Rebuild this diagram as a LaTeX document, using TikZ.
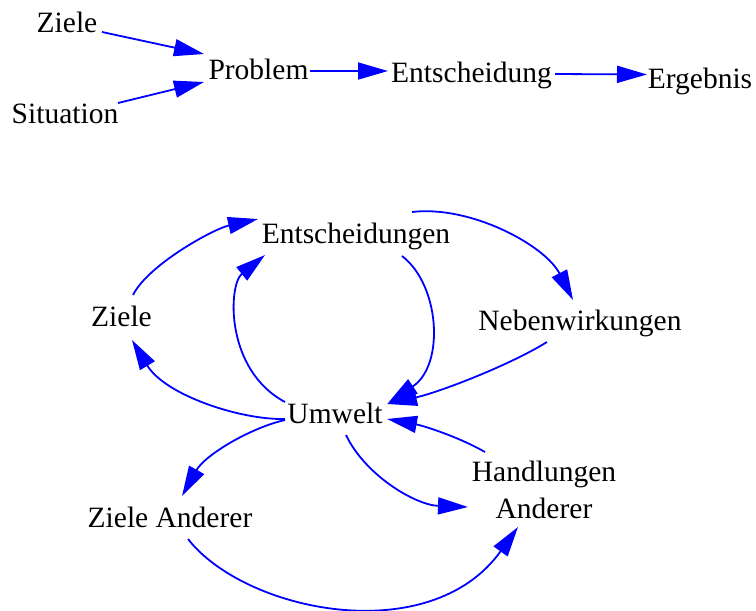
\documentclass[tikz,border=0pt]{standalone}
\usepackage{fontspec}
\setmainfont{Liberation Serif}
\usetikzlibrary{arrows.meta}
\definecolor{linkblue}{RGB}{0,0,255}
\begin{document}
\begin{tikzpicture}[x=1pt,y=-1pt,
  lbl/.style={font=\fontsize{29.5}{37}\selectfont, inner sep=0pt, anchor=base},
  link/.style={draw=linkblue, line width=1.8pt,
    -{Triangle[length=30pt,width=17pt,fill=linkblue]}}]
\useasboundingbox (0,0) rectangle (756,611);

% --- linear chain ---
\node[lbl] (zt)   at (67,32)    {Ziele};
\node[lbl] (sit)  at (65,123)   {Situation};
\node[lbl] (prob) at (258.5,79) {Problem};
\node[lbl] (ents) at (471.5,82) {Entscheidung};
\node[lbl] (erg)  at (700,88)   {Ergebnis};

\draw[link] ([shift={(35,0)}]zt.base) -- ([shift={(-54.5,-25)}]prob.base);
\draw[link] ([shift={(53,-20)}]sit.base) -- ([shift={(-54.5,3)}]prob.base);
\draw[link] ([shift={(51.5,-8)}]prob.base) -- ([shift={(-83.5,-11)}]ents.base);
\draw[link] ([shift={(83.5,-8)}]ents.base) -- ([shift={(-53,-13.5)}]erg.base);

% --- feedback loops ---
\node[lbl] (ed)  at (356,243)   {Entscheidungen};
\node[lbl] (zb)  at (121.5,326) {Ziele};
\node[lbl] (neb) at (580,330)   {Nebenwirkungen};
\node[lbl] (umw) at (335,423)   {Umwelt};
\node[lbl] (za)  at (170,527)   {Ziele Anderer};
% base anchor sits on the last line
\node[lbl, align=center] (ha) at (544,518) {Handlungen\\Anderer};

% Ziele -> Entscheidungen
\draw[link] ([shift={(11.5,-31)}]zb.base) .. controls (148,265) and (213,229) .. ([shift={(-98,-24)}]ed.base);
% Entscheidungen -> Nebenwirkungen
\draw[link] ([shift={(56,-31)}]ed.base) .. controls (470,205) and (545,245) .. ([shift={(-7,-30)}]neb.base);
% Umwelt -> Entscheidungen
\draw[link] ([shift={(-50,-21)}]umw.base) .. controls (225,370) and (228,285) .. ([shift={(-91,12)}]ed.base);
% Entscheidungen -> Umwelt
\draw[link] ([shift={(46,13)}]ed.base) .. controls (440,285) and (445,365) .. ([shift={(53,-20)}]umw.base);
% Nebenwirkungen -> Umwelt
\draw[link] ([shift={(-33,12)}]neb.base) .. controls (510,365) and (440,392) .. ([shift={(52,-19)}]umw.base);
% Umwelt -> Ziele
\draw[link] ([shift={(-50,-4)}]umw.base) .. controls (240,420) and (165,395) .. ([shift={(10.5,14)}]zb.base);
% Umwelt -> Ziele Anderer
\draw[link] ([shift={(-50,-3)}]umw.base) .. controls (250,428) and (205,455) .. ([shift={(12,-31)}]za.base);
% Ziele Anderer -> Handlungen Anderer
\draw[link] ([shift={(18,12)}]za.base) .. controls (245,612) and (430,650) .. ([shift={(-26,9)}]ha.base);
% Umwelt -> Handlungen Anderer
\draw[link] ([shift={(11,12)}]umw.base) .. controls (365,475) and (415,505) .. ([shift={(-76,-11)}]ha.base);
% Handlungen Anderer -> Umwelt
\draw[link] ([shift={(-59,-66)}]ha.base) .. controls (455,435) and (420,425) .. ([shift={(52,-4)}]umw.base);
\end{tikzpicture}
\end{document}
